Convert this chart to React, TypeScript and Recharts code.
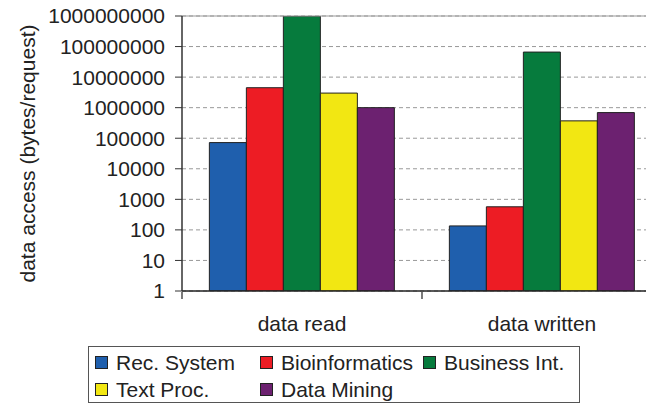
import { BarChart, Bar, XAxis, YAxis, CartesianGrid, Legend, ReferenceLine } from "recharts";

const categories = ["data read", "data written"];
const seriesNames = ["Rec. System", "Bioinformatics", "Business Int.", "Text Proc.", "Data Mining"];
const recSystem = [72000, 135];
const bioinformatics = [4500000, 570];
const businessInt = [1000000000, 66000000];
const textProc = [3000000, 370000];
const dataMining = [1000000, 690000];
const yTicks = [1, 10, 100, 1000, 10000, 100000, 1000000, 10000000, 100000000, 1000000000];

const colors = ["#1f5fad", "#ed1c24", "#067b3d", "#f2e712", "#6c2170"];
const keys = ["rec", "bio", "bus", "txt", "dm"];
const series = [recSystem, bioinformatics, businessInt, textProc, dataMining];

const data = categories.map((name, i) => {
  const row: Record<string, string | number> = { name };
  keys.forEach((k, j) => (row[k] = series[j][i]));
  return row;
});

const font = "'Liberation Sans', Arial, sans-serif";

const CategoryTick = (props: any) => {
  const { x, y, payload, width, visibleTicksCount, index } = props;
  const half = width / visibleTicksCount / 2;
  return (
    <g>
      {index === 0 && <line x1={x - half} x2={x - half} y1={y - 7} y2={y} stroke="#222" strokeWidth={1.2} />}
      <line x1={x + half} x2={x + half} y1={y - 7} y2={y} stroke="#222" strokeWidth={1.2} />
      <text x={x} y={y + 32} textAnchor="middle" fontSize={21} fill="#222" fontFamily={font}>
        {payload.value}
      </text>
    </g>
  );
};

const LegendBox = () => (
  <div
    style={{
      width: 492,
      height: 57,
      boxSizing: "border-box",
      border: "1px solid #555",
      display: "grid",
      gridTemplateColumns: "165px 163px 160px",
      gridAutoRows: "27px",
      padding: "2px 0 0 6px",
      fontFamily: font,
      fontSize: 21,
      color: "#222",
      lineHeight: "27px",
    }}
  >
    {seriesNames.map((n, i) => (
      <div key={n} style={{ display: "flex", alignItems: "center", whiteSpace: "nowrap" }}>
        <span
          style={{
            display: "inline-block",
            width: 13,
            height: 13,
            boxSizing: "border-box",
            border: "1px solid #222",
            background: colors[i],
            marginRight: 8,
          }}
        />
        {n}
      </div>
    ))}
  </div>
);

export default function App() {
  return (
    <div style={{ width: 646, overflow: "hidden" }}>
      <BarChart
        width={654}
        height={397}
        data={data}
        margin={{ top: 8, right: 0, bottom: 0, left: 0 }}
        barCategoryGap="11.4%"
        barGap={0}
      >
        <CartesianGrid vertical={false} stroke="#999" strokeDasharray="4 3" />
        <ReferenceLine y={1000000000} stroke="#999" strokeWidth={1.2} />
        <XAxis
          dataKey="name"
          height={57}
          axisLine={{ stroke: "#222", strokeWidth: 1.5 }}
          tickLine={false}
          tick={<CategoryTick />}
          interval={0}
        />
        <YAxis
          scale="log"
          domain={[1, 1000000000]}
          ticks={yTicks}
          allowDataOverflow
          width={174}
          interval={0}
          tickSize={7}
          tickMargin={10}
          axisLine={{ stroke: "#333", strokeWidth: 1.5 }}
          tickLine={{ stroke: "#333" }}
          tick={{ fontSize: 21, fill: "#222", fontFamily: font }}
          label={{
            content: (p: any) => {
              const vb = p.viewBox;
              const cx = vb.x + 19;
              const cy = vb.y + vb.height / 2;
              return (
                <text
                  x={cx}
                  y={cy}
                  transform={`rotate(-90 ${cx} ${cy})`}
                  textAnchor="middle"
                  dominantBaseline="central"
                  fontSize={21}
                  fill="#222"
                  fontFamily={font}
                >
                  data access (bytes/request)
                </text>
              );
            },
          }}
        />
        <Legend
          content={<LegendBox />}
          wrapperStyle={{ top: 338, left: 80, bottom: "auto", width: 492 }}
        />
        {keys.map((k, i) => (
          <Bar
            key={k}
            dataKey={k}
            name={seriesNames[i]}
            fill={colors[i]}
            stroke="#222"
            strokeWidth={1}
            isAnimationActive={false}
          />
        ))}
      </BarChart>
    </div>
  );
}
